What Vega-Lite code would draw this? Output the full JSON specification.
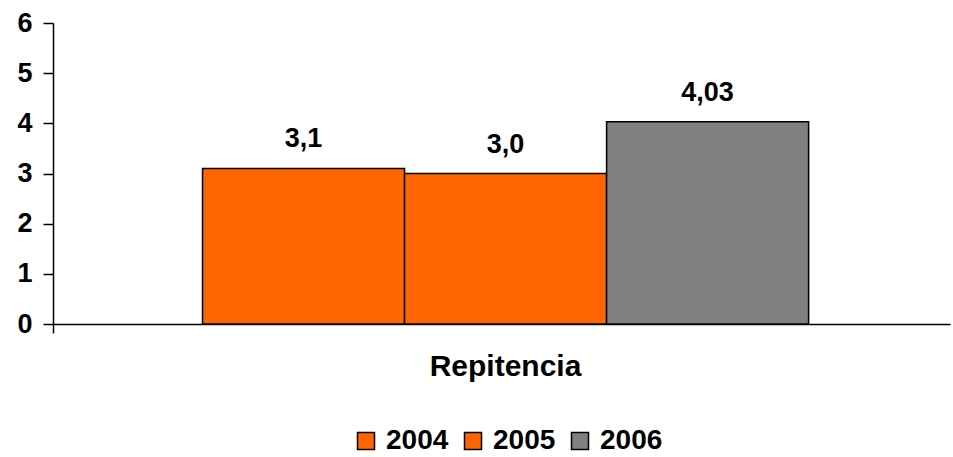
{
  "$schema": "https://vega.github.io/schema/vega-lite/v6.json",
  "width": 897,
  "height": 301,
  "autosize": {"type": "none"},
  "padding": {"left": 53, "top": 23, "right": 3, "bottom": 133},
  "background": "white",
  "config": {"view": {"stroke": null}, "font": "Liberation Sans"},
  "data": {
    "values": [
      {"cat": "Repitencia", "year": "2004", "value": 3.1, "label": "3,1"},
      {"cat": "Repitencia", "year": "2005", "value": 3.0, "label": "3,0"},
      {"cat": "Repitencia", "year": "2006", "value": 4.03, "label": "4,03"}
    ]
  },
  "encoding": {
    "x": {
      "field": "cat",
      "type": "nominal",
      "scale": {"paddingInner": 0, "paddingOuter": 0},
      "axis": {
        "labels": false,
        "title": "Repitencia",
        "bandPosition": 0,
        "tickSize": 9,
        "tickColor": "black",
        "tickWidth": 1.5,
        "domainColor": "black",
        "domainWidth": 1.5,
        "titleFontSize": 30,
        "titleFontWeight": "bold",
        "titleColor": "black",
        "titlePadding": 18,
        "titleX": 452
      }
    },
    "xOffset": {
      "field": "year",
      "type": "nominal",
      "scale": {"paddingInner": 0, "paddingOuter": 0.72, "align": 0.514}
    },
    "y": {
      "field": "value",
      "type": "quantitative",
      "scale": {"domain": [0, 6]},
      "axis": {
        "values": [0, 1, 2, 3, 4, 5, 6],
        "grid": false,
        "title": null,
        "labelFontSize": 27,
        "labelFontWeight": "bold",
        "labelColor": "black",
        "labelPadding": 11,
        "tickSize": 10,
        "tickColor": "black",
        "tickWidth": 1.5,
        "domainColor": "black",
        "domainWidth": 1.5
      }
    }
  },
  "layer": [
    {
      "mark": {"type": "bar", "stroke": "black", "strokeWidth": 1.5},
      "encoding": {
        "color": {
          "field": "year",
          "type": "nominal",
          "scale": {"domain": ["2004", "2005", "2006"], "range": ["#FF6600", "#FF6600", "#808080"]},
          "legend": {
            "orient": "none",
            "legendX": 299,
            "legendY": 404,
            "direction": "horizontal",
            "title": null,
            "symbolType": "square",
            "symbolSize": 289,
            "symbolStrokeColor": "black",
            "symbolStrokeWidth": 1.5,
            "symbolOpacity": 1,
            "labelFontSize": 28,
            "labelFontWeight": "bold",
            "labelColor": "black",
            "labelOffset": 6,
            "columnPadding": 10
          }
        }
      }
    },
    {
      "mark": {"type": "text", "baseline": "alphabetic", "dy": -21, "fontSize": 27, "fontWeight": "bold", "color": "black"},
      "encoding": {"text": {"field": "label"}}
    }
  ]
}
